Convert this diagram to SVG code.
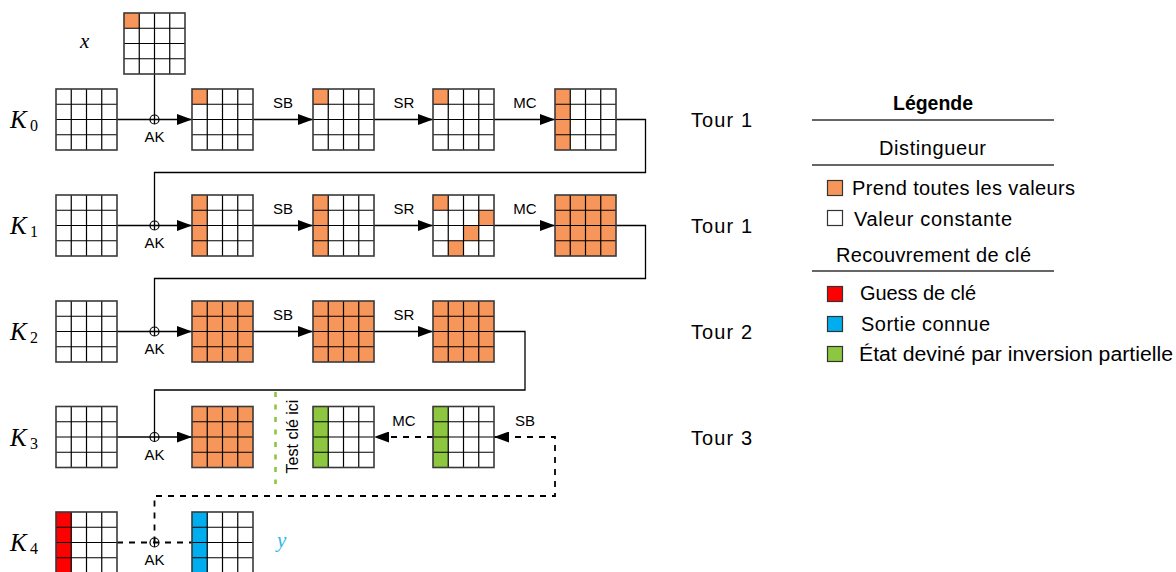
<svg xmlns="http://www.w3.org/2000/svg" xmlns:xlink="http://www.w3.org/1999/xlink" width="1176" height="572" viewBox="0 0 1176 572">
  <style>
    .outer { fill: none; stroke: #3a3a3a; stroke-width: 1.6; }
    .inner { fill: none; stroke: #000; stroke-width: 1.2; }
    .bg { fill: #fff; }
    .or { fill: #F7965A; }
    .rd { fill: #FF0000; }
    .bl { fill: #00AEEF; }
    .gr { fill: #8DC63F; }
    .wire { fill: none; stroke: #000; stroke-width: 1.3; }
    .dash { fill: none; stroke: #000; stroke-width: 1.8; stroke-dasharray: 6 6; }
    .xor { fill: none; stroke: #000; stroke-width: 1.2; }
    .op { font-family: "Liberation Sans", "DejaVu Sans", sans-serif; font-size: 15px; fill: #000; text-anchor: middle; }
    .txt { font-family: "Liberation Sans", "DejaVu Sans", sans-serif; font-size: 20px; fill: #000; }
    .math { font-family: "Liberation Serif", "DejaVu Serif", serif; font-style: italic; fill: #000; }
    .sub { font-family: "Liberation Serif", "DejaVu Serif", serif; font-style: normal; font-size: 16px; }
    .rule { stroke: #333; stroke-width: 1.4; }
    .key { stroke: #333; stroke-width: 1.2; }
  </style>
  <defs>
    <g id="cells">
      <path class="inner" d="M15.25 0V61M30.5 0V61M45.75 0V61M0 15.25H61M0 30.5H61M0 45.75H61"/>
      <rect class="outer" x="0" y="0" width="61" height="61"/>
    </g>
    <rect id="blank" class="bg" x="0" y="0" width="61" height="61"/>
    <marker id="tip" viewBox="0 0 15 11" refX="15" refY="5.5" markerWidth="15" markerHeight="11" markerUnits="userSpaceOnUse" orient="auto">
      <path d="M0 0L15 5.5L0 11Z" fill="#000" stroke="none"/>
    </marker>
  </defs>

  <rect x="0" y="0" width="1176" height="572" fill="#fff"/>

  <!-- connectors -->
  <g id="connectors">
    <!-- round 0 -->
    <path class="wire" d="M154.5 74V124"/>
    <path class="wire" d="M117 119.5H192" marker-end="url(#tip)"/>
    <path class="wire" d="M253 119.5H313" marker-end="url(#tip)"/>
    <path class="wire" d="M374 119.5H433" marker-end="url(#tip)"/>
    <path class="wire" d="M494 119.5H555" marker-end="url(#tip)"/>
    <path class="wire" d="M616 119.5H645.5V172.5H154.5V230"/>
    <!-- round 1 -->
    <path class="wire" d="M117 225.5H192" marker-end="url(#tip)"/>
    <path class="wire" d="M253 225.5H313" marker-end="url(#tip)"/>
    <path class="wire" d="M374 225.5H433" marker-end="url(#tip)"/>
    <path class="wire" d="M494 225.5H555" marker-end="url(#tip)"/>
    <path class="wire" d="M616 225.5H645.5V278.5H154.5V336"/>
    <!-- round 2 -->
    <path class="wire" d="M117 331.5H192" marker-end="url(#tip)"/>
    <path class="wire" d="M253 331.5H313" marker-end="url(#tip)"/>
    <path class="wire" d="M374 331.5H433" marker-end="url(#tip)"/>
    <path class="wire" d="M494 331.5H525V390H154.5V441.5"/>
    <!-- round 3 -->
    <path class="wire" d="M117 437H192" marker-end="url(#tip)"/>
    <path d="M275.5 392V484" fill="none" stroke="#8DC63F" stroke-width="2.6" stroke-dasharray="5 7.5"/>
    <path class="dash" d="M433 437H374" marker-end="url(#tip)"/>
    <path class="dash" d="M154.5 542.5V496H555V437H494" marker-end="url(#tip)"/>
    <!-- round 4 -->
    <path class="dash" d="M117 542.5H192"/>
    <!-- key additions -->
    <g class="xor">
      <circle cx="154.5" cy="119.5" r="4.5"/>
      <circle cx="154.5" cy="225.5" r="4.5"/>
      <circle cx="154.5" cy="331.5" r="4.5"/>
      <circle cx="154.5" cy="437" r="4.5"/>
      <circle cx="154.5" cy="542.5" r="4.5"/>
      <path d="M154.5 538V547"/>
    </g>
    <g class="op">
      <text x="154.5" y="142">AK</text>
      <text x="154.5" y="248">AK</text>
      <text x="154.5" y="354">AK</text>
      <text x="154.5" y="460">AK</text>
      <text x="154.5" y="565">AK</text>
      <text x="283" y="108">SB</text>
      <text x="404" y="108">SR</text>
      <text x="525" y="108">MC</text>
      <text x="283" y="214">SB</text>
      <text x="404" y="214">SR</text>
      <text x="525" y="214">MC</text>
      <text x="283" y="320">SB</text>
      <text x="404" y="320">SR</text>
      <text x="404" y="426">MC</text>
      <text x="525" y="426">SB</text>
    </g>
    <text class="op" transform="translate(298,436.5) rotate(-90)" style="font-size:16px">Test clé ici</text>
  </g>

  <!-- plaintext -->
  <g id="plaintext" transform="translate(124,13)">
    <use href="#blank"/>
    <rect class="or" x="0" y="0" width="15.25" height="15.25"/>
    <use href="#cells"/>
  </g>
  <text class="math" x="80" y="48" style="font-size:21px">x</text>

  <!-- round keys -->
  <g id="k0" transform="translate(56,89)"><use href="#blank"/><use href="#cells"/></g>
  <g id="k1" transform="translate(56,195)"><use href="#blank"/><use href="#cells"/></g>
  <g id="k2" transform="translate(56,301)"><use href="#blank"/><use href="#cells"/></g>
  <g id="k3" transform="translate(56,406.5)"><use href="#blank"/><use href="#cells"/></g>
  <g id="k4" transform="translate(56,512)">
    <use href="#blank"/>
    <rect class="rd" x="0" y="0" width="15.25" height="61"/>
    <use href="#cells"/>
  </g>
  <g id="key-labels">
    <text class="math" x="10" y="128" style="font-size:25px">K<tspan class="sub" x="30" y="131">0</tspan></text>
    <text class="math" x="10" y="234" style="font-size:25px">K<tspan class="sub" x="30" y="237">1</tspan></text>
    <text class="math" x="10" y="340" style="font-size:25px">K<tspan class="sub" x="30" y="343">2</tspan></text>
    <text class="math" x="10" y="446" style="font-size:25px">K<tspan class="sub" x="30" y="449">3</tspan></text>
    <text class="math" x="10" y="551" style="font-size:25px">K<tspan class="sub" x="30" y="554">4</tspan></text>
  </g>

  <!-- round 0 states -->
  <g id="r0-ak" transform="translate(192,89)"><use href="#blank"/><rect class="or" x="0" y="0" width="15.25" height="15.25"/><use href="#cells"/></g>
  <g id="r0-sb" transform="translate(313,89)"><use href="#blank"/><rect class="or" x="0" y="0" width="15.25" height="15.25"/><use href="#cells"/></g>
  <g id="r0-sr" transform="translate(433,89)"><use href="#blank"/><rect class="or" x="0" y="0" width="15.25" height="15.25"/><use href="#cells"/></g>
  <g id="r0-mc" transform="translate(555,89)"><use href="#blank"/><rect class="or" x="0" y="0" width="15.25" height="61"/><use href="#cells"/></g>

  <!-- round 1 states -->
  <g id="r1-ak" transform="translate(192,195)"><use href="#blank"/><rect class="or" x="0" y="0" width="15.25" height="61"/><use href="#cells"/></g>
  <g id="r1-sb" transform="translate(313,195)"><use href="#blank"/><rect class="or" x="0" y="0" width="15.25" height="61"/><use href="#cells"/></g>
  <g id="r1-sr" transform="translate(433,195)">
    <use href="#blank"/>
    <rect class="or" x="0" y="0" width="15.25" height="15.25"/>
    <rect class="or" x="45.75" y="15.25" width="15.25" height="15.25"/>
    <rect class="or" x="30.5" y="30.5" width="15.25" height="15.25"/>
    <rect class="or" x="15.25" y="45.75" width="15.25" height="15.25"/>
    <use href="#cells"/>
  </g>
  <g id="r1-mc" transform="translate(555,195)"><rect class="or" x="0" y="0" width="61" height="61"/><use href="#cells"/></g>

  <!-- round 2 states -->
  <g id="r2-ak" transform="translate(192,301)"><rect class="or" x="0" y="0" width="61" height="61"/><use href="#cells"/></g>
  <g id="r2-sb" transform="translate(313,301)"><rect class="or" x="0" y="0" width="61" height="61"/><use href="#cells"/></g>
  <g id="r2-sr" transform="translate(433,301)"><rect class="or" x="0" y="0" width="61" height="61"/><use href="#cells"/></g>

  <!-- round 3 states -->
  <g id="r3-ak" transform="translate(192,406.5)"><rect class="or" x="0" y="0" width="61" height="61"/><use href="#cells"/></g>
  <g id="r3-mc-inv" transform="translate(313,406.5)"><use href="#blank"/><rect class="gr" x="0" y="0" width="15.25" height="61"/><use href="#cells"/></g>
  <g id="r3-sb-inv" transform="translate(433,406.5)"><use href="#blank"/><rect class="gr" x="0" y="0" width="15.25" height="61"/><use href="#cells"/></g>

  <!-- ciphertext -->
  <g id="ciphertext" transform="translate(192,512)"><use href="#blank"/><rect class="bl" x="0" y="0" width="15.25" height="61"/><use href="#cells"/></g>
  <text class="math" x="277" y="547" style="font-size:21px;fill:#33B5E8">y</text>

  <!-- round labels -->
  <g id="tours" class="txt">
    <text x="691" y="127" textLength="61" lengthAdjust="spacing">Tour 1</text>
    <text x="691" y="232.5" textLength="61" lengthAdjust="spacing">Tour 1</text>
    <text x="691" y="338.5" textLength="61" lengthAdjust="spacing">Tour 2</text>
    <text x="691" y="444.5" textLength="61" lengthAdjust="spacing">Tour 3</text>
  </g>

  <!-- legend -->
  <g id="legend">
    <text class="txt" x="893" y="110" textLength="80" lengthAdjust="spacingAndGlyphs" style="font-weight:bold">Légende</text>
    <line class="rule" x1="812" y1="120" x2="1054" y2="120"/>
    <text class="txt" x="879" y="155" textLength="107" lengthAdjust="spacing">Distingueur</text>
    <line class="rule" x1="812" y1="165" x2="1054" y2="165"/>
    <rect class="or key" x="827.5" y="180.5" width="15" height="15"/>
    <text class="txt" x="852" y="195" textLength="223" lengthAdjust="spacing">Prend toutes les valeurs</text>
    <rect class="key" fill="#fff" x="827.5" y="210.5" width="15" height="15"/>
    <text class="txt" x="854" y="225.5" textLength="158" lengthAdjust="spacing">Valeur constante</text>
    <text class="txt" x="836" y="262" textLength="195" lengthAdjust="spacing">Recouvrement de clé</text>
    <line class="rule" x1="812" y1="271" x2="1054" y2="271"/>
    <rect class="rd key" x="827.5" y="286.5" width="15" height="15"/>
    <text class="txt" x="860" y="300" textLength="116" lengthAdjust="spacing">Guess de clé</text>
    <rect class="bl key" x="827.5" y="316.5" width="15" height="15"/>
    <text class="txt" x="861" y="330.5" textLength="129" lengthAdjust="spacing">Sortie connue</text>
    <rect class="gr key" x="827.5" y="346.5" width="15" height="15"/>
    <text class="txt" x="859" y="361" textLength="314" lengthAdjust="spacingAndGlyphs">État deviné par inversion partielle</text>
  </g>
</svg>
